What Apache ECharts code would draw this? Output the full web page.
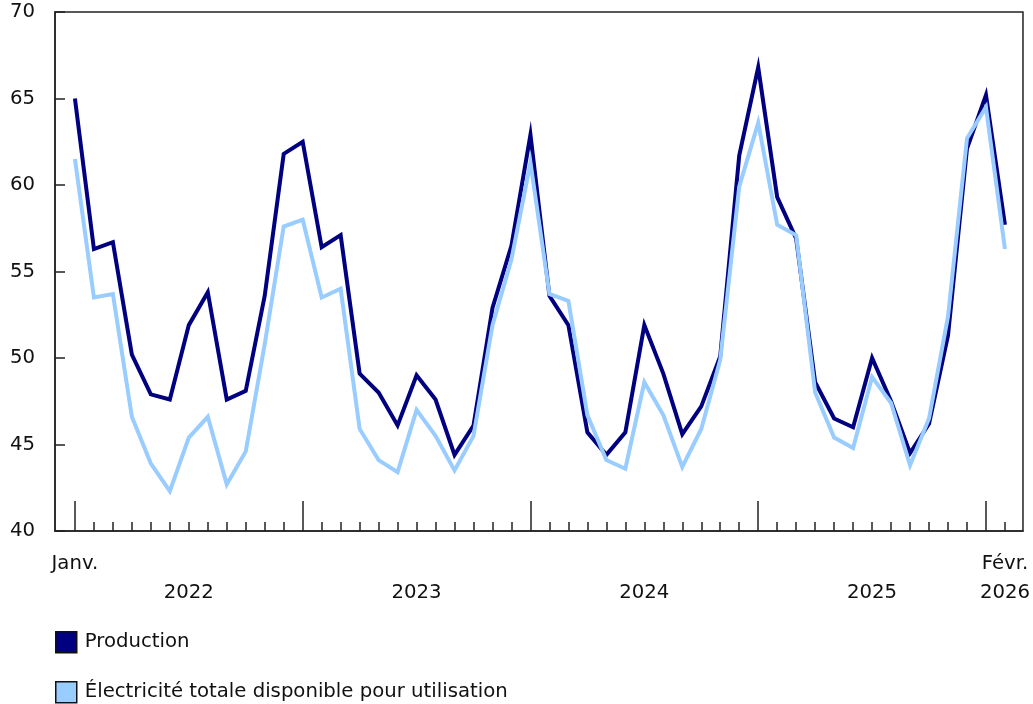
<!DOCTYPE html>
<html>
<head>
<meta charset="utf-8">
<script src="https://cdn.jsdelivr.net/npm/echarts@6/dist/echarts.min.js"></script>
<style>
html,body{margin:0;padding:0;background:#fff;}
#chart{width:1033px;height:704px;}
</style>
</head>
<body>
<div id="chart"></div>
<script>
// Months: Jan 2022 .. Feb 2026
const months = [
  '2022-01','2022-02','2022-03','2022-04','2022-05','2022-06','2022-07','2022-08','2022-09','2022-10','2022-11','2022-12',
  '2023-01','2023-02','2023-03','2023-04','2023-05','2023-06','2023-07','2023-08','2023-09','2023-10','2023-11','2023-12',
  '2024-01','2024-02','2024-03','2024-04','2024-05','2024-06','2024-07','2024-08','2024-09','2024-10','2024-11','2024-12',
  '2025-01','2025-02','2025-03','2025-04','2025-05','2025-06','2025-07','2025-08','2025-09','2025-10','2025-11','2025-12',
  '2026-01','2026-02'
];
const production = [
  65.0,56.3,56.7,50.2,47.9,47.6,51.9,53.8,47.6,48.1,53.6,61.8,
  62.5,56.4,57.1,49.1,48.0,46.1,49.0,47.6,44.4,46.1,52.9,56.5,
  62.9,53.6,51.9,45.7,44.4,45.7,51.9,49.1,45.6,47.2,50.1,61.7,
  66.8,59.3,56.9,48.6,46.5,46.0,50.0,47.5,44.5,46.2,51.3,62.1,
  65.2,57.7
];
const electricity = [
  61.5,53.5,53.7,46.6,43.9,42.3,45.4,46.6,42.7,44.6,50.8,57.6,
  58.0,53.5,54.0,45.9,44.1,43.4,47.0,45.5,43.5,45.5,51.9,55.7,
  61.3,53.7,53.3,46.7,44.1,43.6,48.6,46.7,43.7,45.9,49.9,59.9,
  63.6,57.7,57.1,48.0,45.4,44.8,48.9,47.4,43.8,46.5,52.4,62.7,
  64.5,56.3
];
// Tick labels
const monthLabels = {0:'Janv.', 49:'Févr.'};
const yearLabels = {6:'2022', 18:'2023', 30:'2024', 42:'2025', 49:'2026'};
const yTicks = [40,45,50,55,60,65,70];
const seriesNames = ['Production','Électricité totale disponible pour utilisation'];

const font = 'DejaVu Sans, Verdana, sans-serif';
const fs = 19.7;
const axisColor = '#222';
const minorTicks = months.map((m,i)=>i);
const majorTicks = months.map((m,i)=>i).filter(i=>months[i].endsWith('-01'));

function legendAt(name, top){
  return {
    orient:'vertical', left:55, top:top, padding:0, itemWidth:21, itemHeight:21,
    icon:'rect', data:[name],
    itemStyle:{borderColor:'#111', borderWidth:1.5},
    textStyle:{fontFamily:font, fontSize:fs, color:'#111', padding:[0,0,0,3]}
  };
}

const chart = echarts.init(document.getElementById('chart'), null, {renderer:'canvas'});
chart.setOption({
  animation:false,
  backgroundColor:'#fff',
  textStyle:{fontFamily:font},
  grid:{left:55, right:9, top:12, bottom:173, show:true, borderColor:axisColor, borderWidth:1.5, backgroundColor:'transparent'},
  legend:[legendAt(seriesNames[0], 631), legendAt(seriesNames[1], 681)],
  xAxis:[
    {
      type:'value', min:-1.05, max:49.95, position:'bottom',
      splitLine:{show:false},
      axisLine:{show:true, onZero:false, lineStyle:{color:axisColor, width:1.5}},
      axisTick:{show:true, inside:true, length:9, lineStyle:{color:axisColor, width:1.5}, customValues:minorTicks},
      axisLabel:{show:true, customValues:[0,49], margin:23, fontSize:fs, color:'#111', fontFamily:font,
        formatter:v=>monthLabels[Math.round(v)]||''}
    },
    {
      type:'value', min:-1.05, max:49.95, position:'bottom',
      splitLine:{show:false},
      axisLine:{show:false, onZero:false},
      axisTick:{show:true, inside:true, length:30, lineStyle:{color:axisColor, width:1.5}, customValues:majorTicks},
      axisLabel:{show:true, customValues:[6,18,30,42,49], margin:52, fontSize:fs, color:'#111', fontFamily:font,
        formatter:v=>yearLabels[Math.round(v)]||''}
    }
  ],
  yAxis:{
    type:'value', min:40, max:70, interval:5,
    splitLine:{show:false},
    axisLine:{show:true, onZero:false, lineStyle:{color:axisColor, width:1.5}},
    axisTick:{show:true, inside:true, length:10, lineStyle:{color:axisColor, width:1.5}},
    axisLabel:{fontSize:fs, color:'#111', margin:20, fontFamily:font,
      formatter:v=>yTicks.includes(v)?String(v):''}
  },
  series:[
    {
      name:seriesNames[0], type:'line', xAxisIndex:0, showSymbol:false, symbol:'none',
      data:production.map((v,i)=>[i,v]),
      lineStyle:{color:'#000080', width:4, join:'miter'},
      itemStyle:{color:'#000080'}
    },
    {
      name:seriesNames[1], type:'line', xAxisIndex:0, showSymbol:false, symbol:'none',
      data:electricity.map((v,i)=>[i,v]),
      lineStyle:{color:'#99ccff', width:4, join:'miter'},
      itemStyle:{color:'#99ccff'}
    }
  ]
});
</script>
</body>
</html>
